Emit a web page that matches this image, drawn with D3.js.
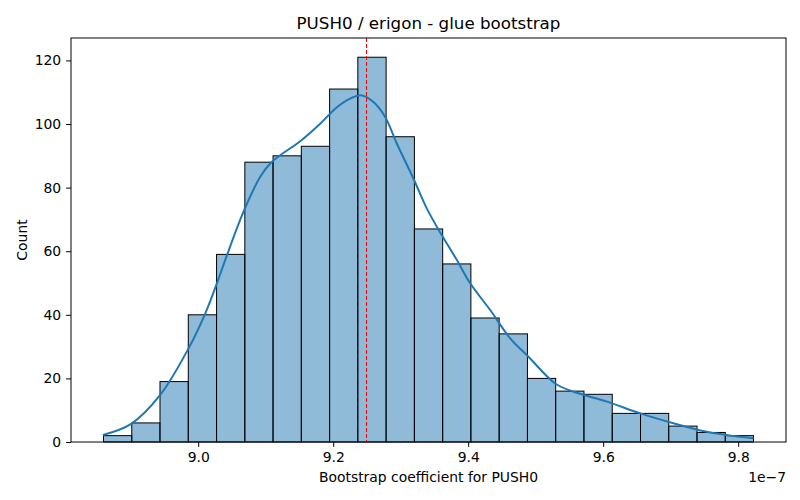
<!DOCTYPE html>
<html>
<head>
<meta charset="utf-8">
<script src="https://cdn.jsdelivr.net/npm/d3@7"></script>
<style>
  html, body { margin: 0; padding: 0; background: #fff; }
  svg { display: block; font-family: "DejaVu Sans", sans-serif; }
</style>
</head>
<body>
<svg id="chart" width="800" height="500"></svg>
<script>
// ---- data (values in units of 1e-7) ----
const binEdges = [8.8597, 8.9016, 8.9434, 8.9853, 9.0272, 9.0691, 9.1109, 9.1528,
  9.1947, 9.2365, 9.2784, 9.3203, 9.3622, 9.4040, 9.4459, 9.4878, 9.5296, 9.5715,
  9.6134, 9.6553, 9.6971, 9.7390, 9.7809, 9.8227];
const counts = [2, 6, 19, 40, 59, 88, 90, 93, 111, 121, 96, 67, 56, 39, 34, 20, 16, 15, 9, 9, 5, 3, 2];
const kdeX = [8.8588, 8.9007, 8.9437, 8.9856, 9.0104, 9.0277, 9.0425, 9.0681, 9.0919, 9.1067,
  9.1215, 9.1511, 9.1807, 9.2055, 9.2252, 9.2425, 9.2597, 9.2770, 9.2944, 9.3190, 9.3388,
  9.3610, 9.3833, 9.4030, 9.4326, 9.4622, 9.4893, 9.5289, 9.5560, 9.6055, 9.6548, 9.7041,
  9.7536, 9.7930, 9.8227];
const kdeY = [2.2, 5.7, 14.8, 29.4, 40.4, 49.9, 58.7, 72.9, 83.4, 87.6,
  90.2, 94.6, 100.1, 105.3, 108.0, 109.0, 106.9, 102.2, 93.8, 82.8, 73.4,
  65.0, 57.2, 49.9, 41.5, 32.6, 26.8, 18.4, 15.8, 12.7, 9.0, 5.9,
  3.2, 1.9, 1.2];
const meanValue = 9.2479;
const xTicks = [9.0, 9.2, 9.4, 9.6, 9.8];
const yTicks = [0, 20, 40, 60, 80, 100, 120];
const titleText = "PUSH0 / erigon - glue bootstrap";
const xLabel = "Bootstrap coefficient for PUSH0";
const yLabel = "Count";
const offsetText = "1e\u22127";

// ---- layout ----
const svg = d3.select("#chart");
const L = 71, R = 786, T = 38, B = 442;
const xMin = binEdges[0], xMax = binEdges[binEdges.length - 1];
const pad = (xMax - xMin) * 0.05;
const x = d3.scaleLinear().domain([xMin - pad, xMax + pad]).range([L, R]);
const y = d3.scaleLinear().domain([0, d3.max(counts) * 1.05]).range([B, T]);

const bins = counts.map((c, i) => ({ x0: binEdges[i], x1: binEdges[i + 1], c }));

svg.append("g").selectAll("rect").data(bins).join("rect")
  .attr("x", d => x(d.x0))
  .attr("y", d => y(d.c))
  .attr("width", d => x(d.x1) - x(d.x0))
  .attr("height", d => y(0) - y(d.c))
  .attr("fill", "rgba(31,119,180,0.5)")
  .attr("stroke", "#000")
  .attr("stroke-width", 1);

const kde = kdeX.map((v, i) => [v, kdeY[i]]);
svg.append("path").datum(kde)
  .attr("fill", "none")
  .attr("stroke", "#1f77b4")
  .attr("stroke-width", 2)
  .attr("d", d3.line().x(d => x(d[0])).y(d => y(d[1])).curve(d3.curveCatmullRom));

const mx = Math.round(x(meanValue)) + 0.5;
svg.append("line")
  .attr("x1", mx).attr("x2", mx)
  .attr("y1", T).attr("y2", B)
  .attr("stroke", "#ff0000").attr("stroke-width", 1.2)
  .attr("shape-rendering", "crispEdges")
  .attr("stroke-dasharray", "4,2");

// axes
const xAxis = d3.axisBottom(x).tickValues(xTicks).tickSize(4.9).tickPadding(4.9)
  .tickFormat(d => d.toFixed(1));
const yAxis = d3.axisLeft(y).tickValues(yTicks).tickSize(4.9).tickPadding(4.9)
  .tickFormat(d3.format("d"));

const gx = svg.append("g").attr("transform", `translate(0,${B})`).call(xAxis);
const gy = svg.append("g").attr("transform", `translate(${L},0)`).call(yAxis);
[gx, gy].forEach(g => {
  g.select(".domain").remove();
  g.selectAll("text").attr("font-size", 13.9).attr("fill", "#000")
    .attr("font-family", "DejaVu Sans, sans-serif");
  g.selectAll("line").attr("stroke", "#000").attr("stroke-width", 1);
});

// frame
svg.append("rect").attr("x", L).attr("y", T).attr("width", R - L).attr("height", B - T)
  .attr("fill", "none").attr("stroke", "#000").attr("stroke-width", 1);

// texts
svg.append("text").attr("x", (L + R) / 2).attr("y", 29)
  .attr("text-anchor", "middle").attr("font-size", 16.7).text(titleText);
svg.append("text").attr("x", (L + R) / 2).attr("y", 482)
  .attr("text-anchor", "middle").attr("font-size", 13.9).text(xLabel);
svg.append("text").attr("transform", `translate(27,${(T + B) / 2}) rotate(-90)`)
  .attr("text-anchor", "middle").attr("font-size", 13.9).text(yLabel);
svg.append("text").attr("x", R).attr("y", 482)
  .attr("text-anchor", "end").attr("font-size", 13.9).text(offsetText);
</script>
</body>
</html>
